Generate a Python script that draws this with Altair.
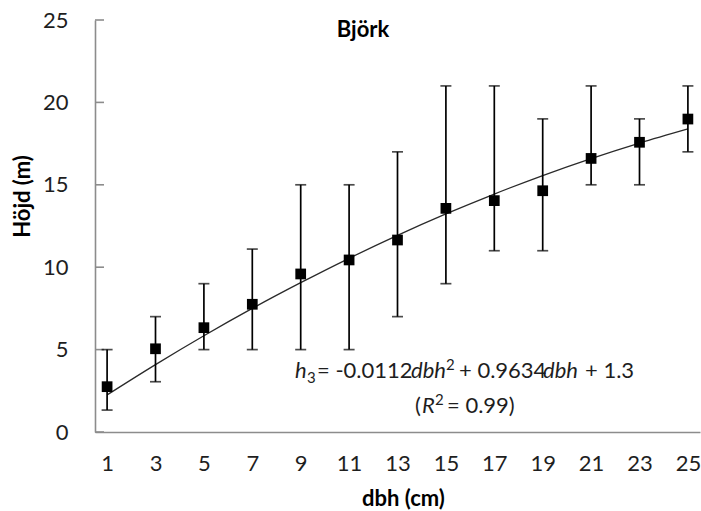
import altair as alt
import pandas as pd

# Data
dbh = [1, 3, 5, 7, 9, 11, 13, 15, 17, 19, 21, 23, 25]
mean_h = [2.75, 5.05, 6.33, 7.75, 9.59, 10.44, 11.65, 13.57, 14.04, 14.64, 16.6, 17.58, 18.99]
min_h = [1.33, 3.05, 5.0, 5.0, 5.0, 5.0, 7.0, 9.0, 11.0, 11.0, 15.0, 15.0, 17.0]
max_h = [5.0, 7.0, 9.0, 11.1, 15.0, 15.0, 17.0, 21.0, 21.0, 19.0, 21.0, 19.0, 21.0]
fit_h = [2.25, 4.09, 5.84, 7.50, 9.06, 10.54, 11.93, 13.23, 14.44, 15.56, 16.59, 17.53, 18.39]
x_tick_labels = [1, 3, 5, 7, 9, 11, 13, 15, 17, 19, 21, 23, 25]
y_tick_values = [0, 5, 10, 15, 20, 25]

df = pd.DataFrame({"dbh": dbh, "mean": mean_h, "lo": min_h, "hi": max_h, "fit": fit_h})
yt = pd.DataFrame({"v": y_tick_values})

FONT = "Lato"
FS = 22
TXT = "#1e1e1e"
GREY = "#8c8c8c"

xscale = alt.Scale(domain=[0.5, 25.5], nice=False, zero=False)
yscale = alt.Scale(domain=[0, 25], nice=False)

x_axis = alt.Axis(
    values=x_tick_labels, ticks=False, tickSize=0, grid=False,
    domainColor=GREY, domainWidth=1.6,
    labelFont=FONT, labelFontSize=FS, labelColor=TXT, labelPadding=21,
    title="dbh (cm)", titleFont=FONT, titleFontSize=FS, titleFontWeight="bold",
    titleColor="#000000", titleX=308, titleY=66, titleBaseline="middle",
)
y_axis = alt.Axis(
    values=y_tick_values, ticks=False, tickSize=0, grid=False,
    domainColor=GREY, domainWidth=1.6,
    labelFont=FONT, labelFontSize=FS, labelColor=TXT, labelPadding=27,
    title="Höjd (m)", titleFont=FONT, titleFontSize=FS, titleFontWeight="bold",
    titleColor="#000000", titleX=-73, titleY=176, titleAngle=-90,
    titleAlign="center", titleBaseline="middle",
)

base = alt.Chart(df)

curve = base.mark_line(color="#2a2a2a", strokeWidth=1.3, interpolate="monotone").encode(
    x=alt.X("dbh:Q", scale=xscale, axis=x_axis),
    y=alt.Y("fit:Q", scale=yscale, axis=y_axis),
)

bars = base.mark_rule(color="#000000", strokeWidth=1.7).encode(
    x=alt.X("dbh:Q", scale=xscale),
    y=alt.Y("lo:Q", scale=yscale),
    y2="hi:Q",
)
cap_hi = base.mark_tick(color="#000000", orient="horizontal", size=11, thickness=1.7).encode(
    x=alt.X("dbh:Q", scale=xscale),
    y=alt.Y("hi:Q", scale=yscale),
)
cap_lo = base.mark_tick(color="#000000", orient="horizontal", size=11, thickness=1.7).encode(
    x=alt.X("dbh:Q", scale=xscale),
    y=alt.Y("lo:Q", scale=yscale),
)
points = base.mark_square(color="#000000", size=115, opacity=1).encode(
    x=alt.X("dbh:Q", scale=xscale),
    y=alt.Y("mean:Q", scale=yscale),
)

yticks = alt.Chart(yt).mark_rule(color=GREY, strokeWidth=1.6).encode(
    x=alt.value(0), x2=alt.value(9),
    y=alt.Y("v:Q", scale=yscale),
)


def label(text, x, y, size=FS, weight="normal", style="normal", align="left"):
    return alt.Chart(pd.DataFrame({"t": [text]})).mark_text(
        font=FONT, fontSize=size, fontWeight=weight, fontStyle=style,
        align=align, baseline="alphabetic", color="#000000" if weight == "bold" else TXT,
    ).encode(text="t:N", x=alt.value(x), y=alt.value(y))


OX, OY = 95, 20  # plot origin in page pixels
title = label("Björk", 363 - OX, 37 - OY, weight="bold", align="center")

eq_y = 378 - OY
r_y = 413 - OY
eq = [
    label("h", 295 - OX, eq_y, style="italic"),
    label("3", 307 - OX, eq_y + 5, size=15),
    label("= -0.0112", 317 - OX, eq_y),
    label("dbh", 411 - OX, eq_y, style="italic"),
    label("2", 446 - OX, eq_y - 8, size=15),
    label("+ 0.9634", 459 - OX, eq_y),
    label("dbh", 543 - OX, eq_y, style="italic"),
    label("+ 1.3", 585 - OX, eq_y),
    label("(", 415 - OX, r_y),
    label("R", 422 - OX, r_y, style="italic"),
    label("2", 435 - OX, r_y - 8, size=15),
    label("= 0.99)", 447 - OX, r_y),
]

chart = alt.layer(curve, yticks, bars, cap_hi, cap_lo, points, title, *eq).properties(
    width=605,
    height=412,
    autosize=alt.AutoSizeParams(type="none"),
    padding={"left": OX, "top": OY, "right": 1, "bottom": 79},
    background="#ffffff",
).configure_view(stroke=None)

chart.save("out.html", embed_options={"renderer": "svg", "actions": False})
